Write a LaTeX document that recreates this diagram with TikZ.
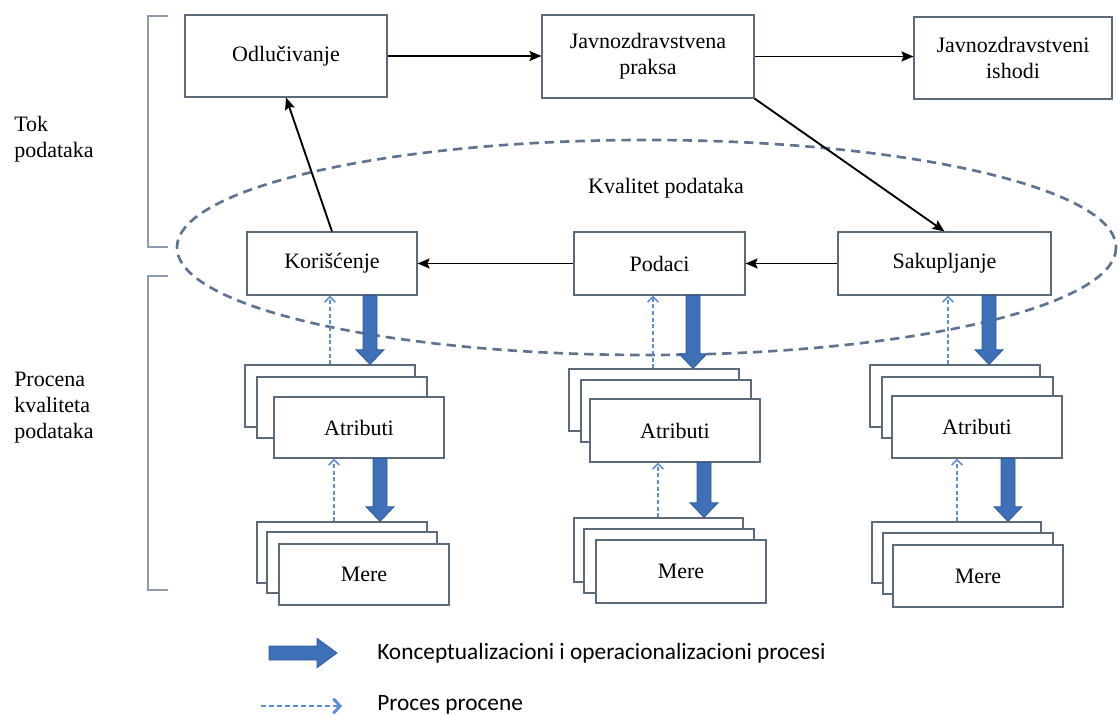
\documentclass[tikz,border=0pt]{standalone}
\usepackage{fontspec}
\setmainfont{Liberation Serif}
\newfontfamily\legendfont{Carlito}
\usetikzlibrary{arrows.meta,calc}
\definecolor{boxline}{HTML}{5B6B7B}
\definecolor{ellcol}{HTML}{5E7490}
\definecolor{brcol}{HTML}{8C9CB0}
\definecolor{fatfill}{HTML}{3E70B8}
\definecolor{fatdraw}{HTML}{2D5A9A}
\definecolor{dashcol}{HTML}{5B8ED6}
\newcommand\mybox[6]{\node[box, minimum width={0.75pt*(#4-#2)}, minimum height={0.75pt*(#5-#3)}] (#1) at ({(#2+#4)/2},{(#3+#5)/2}) {#6};}
\newcommand\fatdown[2]{\filldraw[fatarrow] let \p1=(#1),\p2=(#2) in
  (\x1-5.25pt,\y1) -- (\x1+5.25pt,\y1) -- (\x1+5.25pt,\y2+11pt) -- (\x1+10.5pt,\y2+11pt) -- (\x1,\y2)
  -- (\x1-10.5pt,\y2+11pt) -- (\x1-5.25pt,\y2+11pt) -- cycle;}
\newcommand\fatright[2]{\filldraw[fatarrow] let \p1=(#1),\p2=(#2) in
  (\x1,\y1+5.25pt) -- (\x2-15pt,\y1+5.25pt) -- (\x2-15pt,\y1+11pt) -- (\x2,\y1) -- (\x2-15pt,\y1-11pt)
  -- (\x2-15pt,\y1-5.25pt) -- (\x1,\y1-5.25pt) -- cycle;}
\begin{document}
\begin{tikzpicture}[x=0.75pt,y=-0.75pt,
  box/.style={draw=boxline, line width=0.8pt, fill=white, inner sep=0pt, align=center,
    font=\fontsize{16.5}{19.5}\selectfont},
  lbl/.style={inner sep=0pt, align=left, font=\fontsize{16.5}{19.5}\selectfont},
  flow/.style={draw=black, line width=1.4pt, -{Stealth[length=9pt,width=7.5pt,inset=1.5pt]}},
  fatarrow/.style={fill=fatfill, draw=fatdraw, line width=0.6pt},
  assess/.style={draw=dashcol, line width=1.2pt, dash pattern=on 3pt off 2pt,
    -{Straight Barb[length=4pt,width=8pt]}},
  bracket/.style={draw=brcol, line width=1pt},
  ell/.style={draw=ellcol, line width=2pt, dash pattern=on 7pt off 4.5pt},
  legend/.style={inner sep=0pt, anchor=west, font=\legendfont\fontsize{17.5}{21}\selectfont}]
\useasboundingbox (0,0) rectangle (1119,716);
\fill[white] (0,0) rectangle (1119,716);

% quality ellipse
\draw[ell] (646.5,247.5) ellipse [x radius=469.5, y radius=107.5];
\node[lbl] (kval) at (666,188) {Kvalitet podataka};

% brackets
\coordinate (b1a) at (168,16); \coordinate (b1b) at (168,247);
\coordinate (b2a) at (168,276); \coordinate (b2b) at (168,590);
\draw[bracket] (b1a) -- ++(-20,0) |- (b1b);
\draw[bracket] (b2a) -- ++(-20,0) |- (b2b);
\node[lbl, anchor=west] (tok) at (14,139) {Tok\\podataka};
\node[lbl, anchor=west] (proc) at (14,408) {Procena\\kvaliteta\\podataka};

% top row
\mybox{odl}{185}{15}{387}{97}{Odlučivanje}
\mybox{jp}{542}{15}{754}{98}{Javnozdravstvena\\praksa}
\mybox{ish}{914}{17}{1112}{99}{Javnozdravstveni\\ishodi}

% data row
\mybox{kor}{247}{232}{417}{295}{Korišćenje}
\mybox{pod}{574}{232}{745}{295}{Podaci}
\mybox{sak}{838}{232}{1051}{295}{Sakupljanje}

% attribute stacks
\mybox{atr1b}{245}{365}{415}{427}{}
\mybox{atr1m}{257}{377}{427}{438}{}
\mybox{atr1}{274}{397}{444}{458}{Atributi}
\mybox{atr2b}{569}{369}{739}{431}{}
\mybox{atr2m}{581}{380}{751}{442}{}
\mybox{atr2}{590}{399}{760}{462}{Atributi}
\mybox{atr3b}{870}{365}{1040}{427}{}
\mybox{atr3m}{882}{377}{1053}{438}{}
\mybox{atr3}{892}{396}{1062}{458}{Atributi}

% measure stacks
\mybox{mer1b}{257}{522}{427}{583}{}
\mybox{mer1m}{267}{532}{437}{593}{}
\mybox{mer1}{279}{544}{449}{605}{Mere}
\mybox{mer2b}{574}{518}{743}{582}{}
\mybox{mer2m}{584}{529}{754}{593}{}
\mybox{mer2}{596}{540}{766}{603}{Mere}
\mybox{mer3b}{872}{522}{1041}{583}{}
\mybox{mer3m}{883}{533}{1053}{594}{}
\mybox{mer3}{893}{545}{1063}{607}{Mere}

% black flow arrows
\draw[flow] (odl.east) -- (jp.west |- odl.east);
\draw[flow] (jp.east) -- (ish.west |- jp.east);
\draw[flow] (kor.north) -- (odl.south);
\draw[flow] (jp.south east) -- (sak.north);
\draw[flow] (sak.west) -- (pod.east);
\draw[flow] (pod.west) -- (kor.east);

% conceptualisation arrows (thick blue)
\coordinate (f1) at ($(kor.south)+(38,0)$);
\coordinate (f2) at ($(pod.south)+(33.5,0)$);
\coordinate (f3) at ($(sak.south)+(44.5,0)$);
\coordinate (f4) at ($(atr1.south)+(21,0)$);
\coordinate (f5) at ($(atr2.south)+(29,0)$);
\coordinate (f6) at ($(atr3.south)+(31,0)$);
\fatdown{f1}{f1 |- atr1b.north}
\fatdown{f2}{f2 |- atr2b.north}
\fatdown{f3}{f3 |- atr3b.north}
\fatdown{f4}{f4 |- mer1b.north}
\fatdown{f5}{f5 |- mer2b.north}
\fatdown{f6}{f6 |- mer3b.north}

% assessment arrows (dashed)
\coordinate (d1) at ($(kor.south)+(-2,0)$);
\coordinate (d2) at ($(pod.south)+(-6.5,0)$);
\coordinate (d3) at ($(sak.south)+(3.5,0)$);
\coordinate (d4) at ($(atr1.south)+(-25,0)$);
\coordinate (d5) at ($(atr2.south)+(-17,0)$);
\coordinate (d6) at ($(atr3.south)+(-20,0)$);
\draw[assess] (d1 |- atr1b.north) -- (d1);
\draw[assess] (d2 |- atr2b.north) -- (d2);
\draw[assess] (d3 |- atr3b.north) -- (d3);
\draw[assess] (d4 |- mer1b.north) -- (d4);
\draw[assess] (d5 |- mer2b.north) -- (d5);
\draw[assess] (d6 |- mer3b.north) -- (d6);

% legend
\coordinate (lga) at (269,653); \coordinate (lgb) at (337,653);
\fatright{lga}{lgb}
\node[legend] (lt1) at (377,653) {Konceptualizacioni i operacionalizacioni procesi};
\coordinate (lgc) at (261,706); \coordinate (lgd) at (342,706);
\draw[assess, line width=2.2pt, dash pattern=on 4pt off 2pt, -{Straight Barb[length=5pt,width=11pt]}] (lgc) -- (lgd);
\node[legend] (lt2) at (377,705) {Proces procene};
\end{tikzpicture}
\end{document}
